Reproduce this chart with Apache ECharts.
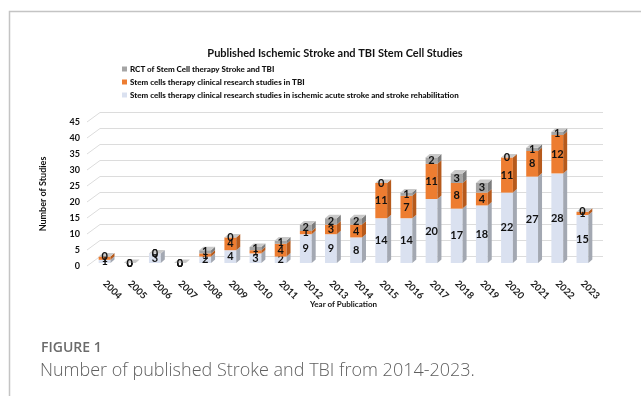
<!DOCTYPE html>
<html>
<head>
<meta charset="utf-8">
<script src="https://cdn.jsdelivr.net/npm/echarts@6/dist/echarts.min.js"></script>
<style>
  html, body { margin: 0; padding: 0; background: #fff; }
  #chart { width: 641px; height: 396px; }
</style>
</head>
<body>
<div id="chart"></div>
<script>
const years = ['2004', '2005', '2006', '2007', '2008', '2009', '2010', '2011', '2012', '2013',
  '2014', '2015', '2016', '2017', '2018', '2019', '2020', '2021', '2022', '2023']
const strokeStudies = [1, 0, 3, 0, 2, 4, 3, 2, 9, 9, 8, 14, 14, 20, 17, 18, 22, 27, 28, 15]
const tbiStudies = [1, 0, 0, 0, 1, 4, 1, 4, 1, 3, 4, 11, 7, 11, 8, 4, 11, 8, 12, 1]
const rctStudies = [0, 0, 0, 0, 1, 0, 1, 1, 2, 2, 2, 0, 1, 2, 3, 3, 0, 1, 1, 0]
const yTicks = [0, 5, 10, 15, 20, 25, 30, 35, 40, 45]

const names = {
  stroke: 'Stem cells therapy clinical research studies in ischemic acute stroke and stroke rehabilitation',
  tbi: 'Stem cells therapy clinical research studies in TBI',
  rct: 'RCT of Stem Cell therapy Stroke and TBI'
}

const font = 'Lato, "Liberation Sans", sans-serif'

// 堆叠: [类别, 底, 顶, 值]
function stackRows(values, below) {
  return values.map((v, i) => {
    const base = below.reduce((s, arr) => s + arr[i], 0)
    return [i, base, base + v, v]
  })
}

// 立体柱子
function barRenderer(colors, withTop) {
  return function(params, api) {
    const i = api.value(0)
    const p0 = api.coord([i, api.value(1)])
    const p1 = api.coord([i, api.value(2)])
    const band = api.size([1, 0])[0]
    const w = band * 0.47
    const dx = 4
    const dy = 3.5
    const off = -3
    const left = p0[0] - w / 2
    const yb = p0[1] + off
    const yt = p1[1] + off
    const children = []
    if (yb - yt > 0) {
      children.push({
        type: 'rect',
        shape: { x: left, y: yt, width: w, height: yb - yt },
        style: { fill: colors.front }
      })
      children.push({
        type: 'polygon',
        shape: { points: [[left + w, yt], [left + w + dx, yt - dy], [left + w + dx, yb - dy], [left + w, yb]] },
        style: { fill: colors.side }
      })
    }
    if (withTop) {
      children.push({
        type: 'polygon',
        shape: { points: [[left, yt], [left + dx, yt - dy], [left + w + dx, yt - dy], [left + w, yt]] },
        style: { fill: colors.top }
      })
    }
    children.push({
      type: 'text',
      style: {
        text: String(api.value(3)),
        x: left + w / 2,
        y: (yt + yb) / 2,
        align: 'center',
        verticalAlign: 'middle',
        fontSize: 11,
        fontWeight: 'bold',
        fontFamily: font,
        fill: '#111'
      },
      z2: 10
    })
    return { type: 'group', children: children }
  }
}

// 背景网格线（带透视斜线）
function gridRenderer(params, api) {
  const cs = params.coordSys
  const y = api.coord([0, api.value(1)])[1]
  return {
    type: 'polyline',
    shape: { points: [[cs.x - 5, y], [cs.x + 8, y - 9.5], [cs.x + cs.width + 8, y - 9.5]] },
    style: { stroke: '#dcdcdc', lineWidth: 1, fill: null }
  }
}

const chart = echarts.init(document.getElementById('chart'))
const option = {
  animation: false,
  title: {
    text: 'Published Ischemic Stroke and TBI Stem Cell Studies',
    left: 330,
    top: 43,
    textAlign: 'center',
    textStyle: { fontSize: 11, fontWeight: 'bold', fontFamily: font, color: '#111' }
  },
  legend: {
    orient: 'vertical',
    left: 117,
    top: 60,
    itemGap: 5,
    itemWidth: 5,
    itemHeight: 5,
    icon: 'rect',
    data: [names.rct, names.tbi, names.stroke],
    textStyle: { fontSize: 8, fontWeight: 900, fontFamily: font, color: '#111', padding: [0, 0, 0, -2] }
  },
  grid: {
    left: 92,
    right: 46,
    top: 122,
    bottom: 130
  },
  xAxis: {
    type: 'category',
    data: years,
    name: 'Year of Publication',
    nameLocation: 'middle',
    nameGap: 34,
    nameMoveOverlap: false,
    nameTextStyle: { fontSize: 8, fontWeight: 'bold', fontFamily: font, color: '#111' },
    axisLine: { show: false },
    axisTick: { show: false },
    axisLabel: {
      rotate: -45,
      interval: 0,
      margin: 16,
      padding: [0, 6, 0, 0],
      fontSize: 9.5,
      fontWeight: 'bold',
      fontFamily: font,
      color: '#222'
    }
  },
  yAxis: {
    type: 'value',
    min: 0,
    max: 45,
    interval: 5,
    name: 'Number of Studies',
    nameLocation: 'middle',
    nameGap: 44,
    nameTextStyle: { fontSize: 9, fontWeight: 'bold', fontFamily: font, color: '#111' },
    axisLine: { show: false },
    axisTick: { show: false },
    splitLine: { show: false },
    axisLabel: {
      margin: 12,
      fontSize: 9,
      fontWeight: 'bold',
      fontFamily: font,
      color: '#111'
    }
  },
  series: [
    {
      type: 'custom',
      silent: true,
      renderItem: gridRenderer,
      data: yTicks.map(v => [0, v]),
      z: 1
    },
    {
      name: names.stroke,
      type: 'custom',
      renderItem: barRenderer({ front: '#dae1f0', side: '#a3a8b2', top: '#e8ecf5' }, false),
      itemStyle: { color: '#dae1f0' },
      encode: { x: 0, y: [1, 2] },
      data: stackRows(strokeStudies, []),
      z: 2
    },
    {
      name: names.tbi,
      type: 'custom',
      renderItem: barRenderer({ front: '#ed7d31', side: '#b65a1c', top: '#f3a26b' }, false),
      itemStyle: { color: '#ed7d31' },
      encode: { x: 0, y: [1, 2] },
      data: stackRows(tbiStudies, [strokeStudies]),
      z: 3
    },
    {
      name: names.rct,
      type: 'custom',
      renderItem: barRenderer({ front: '#a5a5a5', side: '#7c7c7c', top: '#c9c9c9' }, true),
      itemStyle: { color: '#a5a5a5' },
      encode: { x: 0, y: [1, 2] },
      data: stackRows(rctStudies, [strokeStudies, tbiStudies]),
      z: 4
    }
  ],
  graphic: [
    {
      type: 'polyline',
      shape: { points: [[9.5, 396], [9.5, 11.5], [641, 11.5]] },
      style: { stroke: '#c4c4c4', lineWidth: 1.5, fill: null }
    },
    {
      type: 'text',
      left: 41,
      top: 341,
      style: { text: 'FIGURE 1', fontSize: 14, fontWeight: 600, fontFamily: '"Open Sans", sans-serif', fill: '#6b6b6b' }
    },
    {
      type: 'text',
      left: 40,
      top: 362,
      style: { text: 'Number of published Stroke and TBI from 2014-2023.', fontSize: 18, fontWeight: 300, fontFamily: '"Open Sans", sans-serif', fill: '#5f5f5f' }
    }
  ]
}
chart.setOption(option)
window.addEventListener('resize', () => chart.resize())
</script>
</body>
</html>
